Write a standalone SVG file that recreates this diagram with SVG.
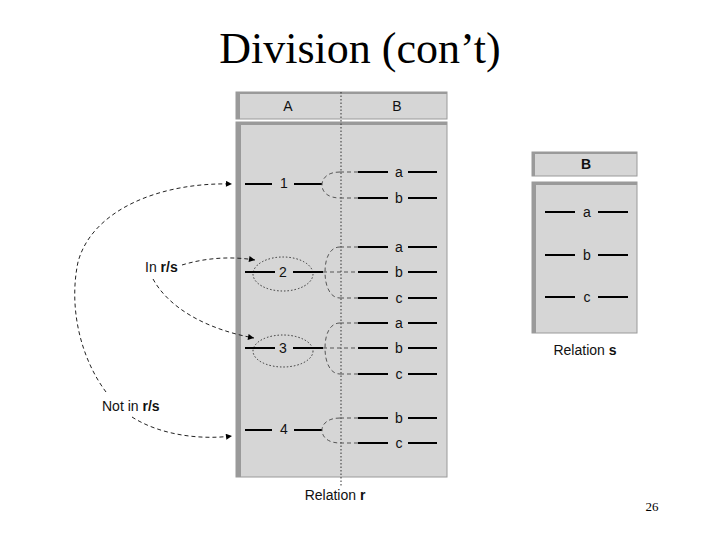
<svg xmlns="http://www.w3.org/2000/svg" width="720" height="540" viewBox="0 0 720 540">
<defs>
<marker id="ah" viewBox="0 0 10 10" refX="10" refY="5" markerWidth="8" markerHeight="6" orient="auto" markerUnits="userSpaceOnUse">
<path d="M0,0 L10,5 L0,10 z" fill="#000"/>
</marker>
<style>
.box{fill:#d6d6d6;stroke:#9a9a9a;stroke-width:1}
.edge{fill:#9a9a9a}
.t{font-family:"Liberation Sans",Arial,sans-serif;font-size:14px;fill:#111}
.sol{stroke:#000;stroke-width:2}
.dsh{stroke:#555;stroke-width:1;stroke-dasharray:4,3;fill:none}
.dot{stroke:#333;stroke-width:1;stroke-dasharray:1.5,2;fill:none}
.arr{stroke:#222;stroke-width:1;stroke-dasharray:4,3;fill:none;marker-end:url(#ah)}
</style>
</defs>
<rect width="720" height="540" fill="#fff"/>
<text x="360" y="63" text-anchor="middle" font-family="'Liberation Serif','Times New Roman',serif" font-size="44" fill="#000">Division (con’t)</text>

<g id="relation-r">
<rect class="box" x="236" y="92" width="211" height="27"/>
<rect class="edge" x="236" y="92" width="4" height="27"/>
<rect class="edge" x="236" y="92" width="211" height="2"/>
<rect class="box" x="236" y="122" width="211" height="355"/>
<rect class="edge" x="236" y="122" width="5" height="355"/>
<rect class="edge" x="236" y="122" width="211" height="3"/>
<text class="t" x="288" y="111" text-anchor="middle">A</text>
<text class="t" x="397" y="111" text-anchor="middle">B</text>
<line class="dot" x1="341" y1="92" x2="341" y2="486"/>
<text class="t" x="335" y="500" text-anchor="middle">Relation <tspan font-weight="bold">r</tspan></text>
</g>

<g id="row1">
<line class="sol" x1="245" y1="184" x2="272" y2="184"/>
<text class="t" x="284" y="188" text-anchor="middle">1</text>
<line class="sol" x1="294" y1="184" x2="322" y2="184"/>
<path class="dsh" d="M340,172 C328,172 322,178 322,185 C322,192 328,198 340,198"/>
<line class="dsh" x1="340" y1="172" x2="358" y2="172"/>
<line class="dsh" x1="340" y1="198" x2="358" y2="198"/>
<line class="sol" x1="358" y1="172" x2="388" y2="172"/>
<text class="t" x="399" y="177" text-anchor="middle">a</text>
<line class="sol" x1="408" y1="172" x2="437" y2="172"/>
<line class="sol" x1="358" y1="198" x2="388" y2="198"/>
<text class="t" x="399" y="203" text-anchor="middle">b</text>
<line class="sol" x1="408" y1="198" x2="437" y2="198"/>
</g>

<g id="row2">
<ellipse class="dot" cx="283" cy="274" rx="30" ry="17"/>
<line class="sol" x1="245" y1="272" x2="275" y2="272"/>
<text class="t" x="283" y="277" text-anchor="middle">2</text>
<line class="sol" x1="293" y1="272" x2="323" y2="272"/>
<path class="dsh" d="M340,247 C330,247 325,258 325,272 C325,286 330,298 340,298"/>
<line class="dsh" x1="323" y1="272" x2="358" y2="272"/>
<line class="dsh" x1="340" y1="247" x2="358" y2="247"/>
<line class="dsh" x1="340" y1="298" x2="358" y2="298"/>
<line class="sol" x1="358" y1="247" x2="388" y2="247"/>
<text class="t" x="399" y="252" text-anchor="middle">a</text>
<line class="sol" x1="408" y1="247" x2="437" y2="247"/>
<line class="sol" x1="358" y1="272" x2="388" y2="272"/>
<text class="t" x="399" y="277" text-anchor="middle">b</text>
<line class="sol" x1="408" y1="272" x2="437" y2="272"/>
<line class="sol" x1="358" y1="298" x2="388" y2="298"/>
<text class="t" x="399" y="303" text-anchor="middle">c</text>
<line class="sol" x1="408" y1="298" x2="437" y2="298"/>
</g>

<g id="row3">
<ellipse class="dot" cx="283" cy="351" rx="30" ry="16"/>
<line class="sol" x1="245" y1="348" x2="275" y2="348"/>
<text class="t" x="283" y="353" text-anchor="middle">3</text>
<line class="sol" x1="293" y1="348" x2="323" y2="348"/>
<path class="dsh" d="M340,323 C330,323 325,334 325,348 C325,362 330,374 340,374"/>
<line class="dsh" x1="323" y1="348" x2="358" y2="348"/>
<line class="dsh" x1="340" y1="323" x2="358" y2="323"/>
<line class="dsh" x1="340" y1="374" x2="358" y2="374"/>
<line class="sol" x1="358" y1="323" x2="388" y2="323"/>
<text class="t" x="399" y="328" text-anchor="middle">a</text>
<line class="sol" x1="408" y1="323" x2="437" y2="323"/>
<line class="sol" x1="358" y1="348" x2="388" y2="348"/>
<text class="t" x="399" y="353" text-anchor="middle">b</text>
<line class="sol" x1="408" y1="348" x2="437" y2="348"/>
<line class="sol" x1="358" y1="374" x2="388" y2="374"/>
<text class="t" x="399" y="379" text-anchor="middle">c</text>
<line class="sol" x1="408" y1="374" x2="437" y2="374"/>
</g>

<g id="row4">
<line class="sol" x1="245" y1="430" x2="272" y2="430"/>
<text class="t" x="284" y="434" text-anchor="middle">4</text>
<line class="sol" x1="294" y1="430" x2="322" y2="430"/>
<path class="dsh" d="M340,418 C328,418 322,424 322,430 C322,437 328,443 340,443"/>
<line class="dsh" x1="340" y1="418" x2="358" y2="418"/>
<line class="dsh" x1="340" y1="443" x2="358" y2="443"/>
<line class="sol" x1="358" y1="418" x2="388" y2="418"/>
<text class="t" x="399" y="423" text-anchor="middle">b</text>
<line class="sol" x1="408" y1="418" x2="437" y2="418"/>
<line class="sol" x1="358" y1="443" x2="388" y2="443"/>
<text class="t" x="399" y="448" text-anchor="middle">c</text>
<line class="sol" x1="408" y1="443" x2="437" y2="443"/>
</g>

<g id="relation-s">
<rect class="box" x="532" y="152" width="105" height="24"/>
<rect class="edge" x="532" y="152" width="3" height="24"/>
<rect class="edge" x="532" y="152" width="105" height="2"/>
<rect class="box" x="532" y="182" width="105" height="151"/>
<rect class="edge" x="532" y="182" width="4" height="151"/>
<rect class="edge" x="532" y="182" width="105" height="3"/>
<text class="t" x="586" y="169" text-anchor="middle" font-weight="bold">B</text>
<line class="sol" x1="545" y1="212" x2="575" y2="212"/>
<text class="t" x="587" y="217" text-anchor="middle">a</text>
<line class="sol" x1="598" y1="212" x2="628" y2="212"/>
<line class="sol" x1="545" y1="255" x2="575" y2="255"/>
<text class="t" x="587" y="260" text-anchor="middle">b</text>
<line class="sol" x1="598" y1="255" x2="628" y2="255"/>
<line class="sol" x1="545" y1="297" x2="575" y2="297"/>
<text class="t" x="587" y="302" text-anchor="middle">c</text>
<line class="sol" x1="598" y1="297" x2="628" y2="297"/>
<text class="t" x="585" y="355" text-anchor="middle">Relation <tspan font-weight="bold">s</tspan></text>
</g>

<g id="label-in">
<text class="t" x="145" y="272">In <tspan font-weight="bold">r/s</tspan></text>
</g>
<g id="label-notin">
<text class="t" x="102" y="411">Not in <tspan font-weight="bold">r/s</tspan></text>
</g>

<g id="connectors">
<path class="arr" d="M106,392 C82,360 68,310 78,262 C92,210 160,182 232,184"/>
<path class="arr" d="M132,417 C160,435 200,440 232,436"/>
<path class="arr" d="M182,265 C205,258 230,256 255,260"/>
<path class="arr" d="M153,279 C170,310 210,330 254,338"/>
</g>

<text x="652" y="511" text-anchor="middle" font-family="'Liberation Serif','Times New Roman',serif" font-size="13" fill="#000">26</text>
</svg>
